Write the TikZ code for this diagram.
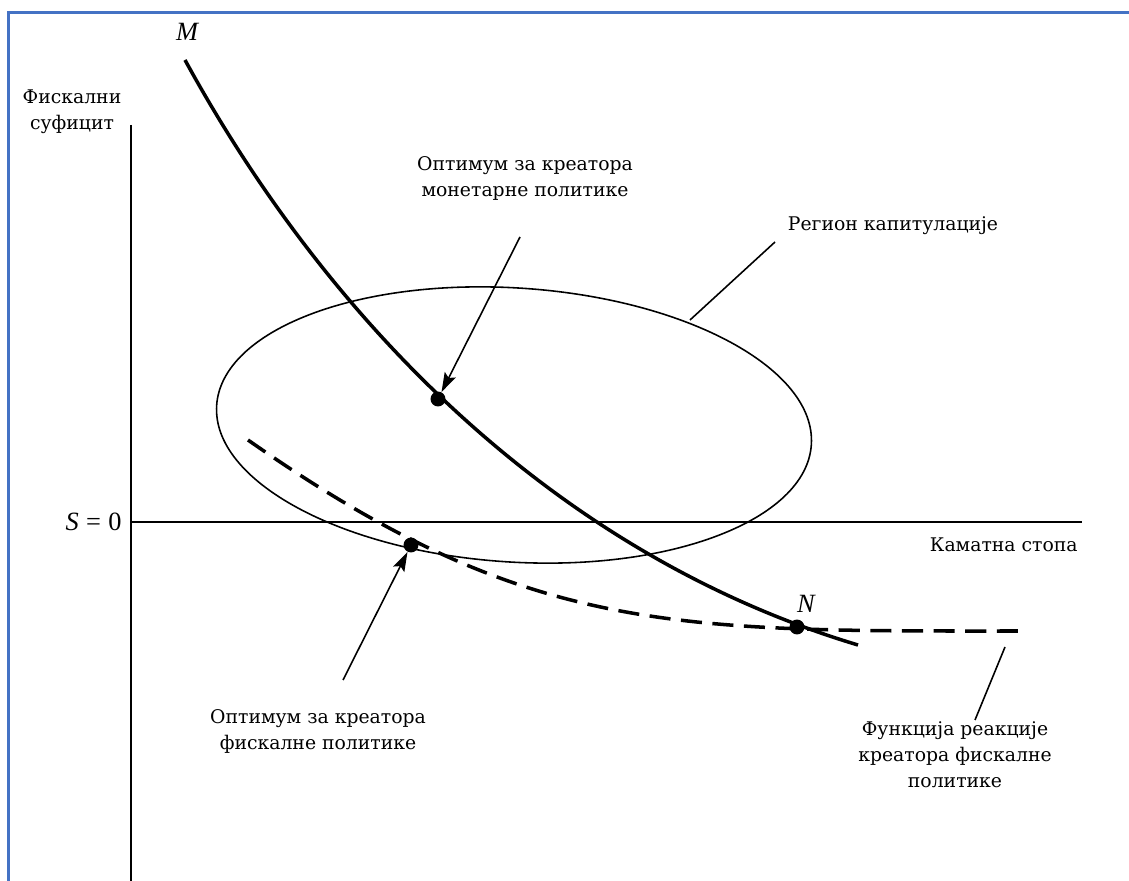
\documentclass[tikz,border=0pt]{standalone}
\usepackage{fontspec}
\setmainfont{DejaVu Serif}
\newfontfamily\timesit{Liberation Serif}
\usetikzlibrary{arrows.meta}
\definecolor{frameblue}{HTML}{4472C4}
\begin{document}
\begin{tikzpicture}[x=0.02cm,y=-0.02cm,
  axisline/.style={line width=1pt},
  curveline/.style={line width=2pt},
  thinline/.style={line width=0.9pt},
  pointer/.style={line width=0.9pt,-{Stealth[length=11pt,width=7pt,inset=2pt]}},
  leader/.style={line width=0.9pt},
  dotnode/.style={circle,fill=black,inner sep=0pt,minimum size=8.5pt},
  lbl/.style={font=\fontsize{10.7}{14.8}\selectfont,align=center,inner sep=0pt},
  ital/.style={font=\fontsize{15}{17}\selectfont\timesit\itshape,inner sep=0pt}]
\useasboundingbox (0,0) rectangle (1129,881);
% frame
\draw[frameblue,line width=2pt] (7,12.5) -- (1129,12.5);
\draw[frameblue,line width=1.8pt] (8.5,11) -- (8.5,881);
% axes
\coordinate (ytop) at (131,125);
\coordinate (ybot) at (131,881);
\coordinate (xl) at (131,522);
\coordinate (xr) at (1082,522);
\draw[axisline] (ytop) -- (ybot);
\draw[axisline] (xl) -- (xr);
\node[lbl] (ylab) at (72,112) {Фискални\\суфицит};
\node[lbl,anchor=east] (xlab) at (1078,545) {Каматна стопа};
\node[font=\fontsize{15}{17}\selectfont\timesit,inner sep=0pt,anchor=east] (s0) at (122,522) {{\itshape S}\hspace{0.28em}=\hspace{0.28em}0};
% ellipse
\draw[thinline,rotate around={-3.8:(514,425)}] (514,425) ellipse [x radius=298, y radius=137];
% curves
\coordinate (mstartc) at (185,60);
\coordinate (mendc) at (858,645);
\draw[curveline] (mstartc) .. controls (330,325) and (558,555) .. (mendc);
\coordinate (fstartc) at (248,440);
\coordinate (fendc) at (1025,631);
\draw[curveline,dash pattern=on 12pt off 6pt] (fstartc) .. controls (528,636) and (675,631) .. (fendc);
% labels M, N
\node[ital] (mlab) at (187,32) {M};
\node[ital] (nlab) at (806,604) {N};
% dots
\node[dotnode] (mopt) at (438,399) {};
\node[dotnode] (fopt) at (411,545) {};
\node[dotnode] (npt) at (797,627) {};
% texts and pointers
\node[lbl] (mtext) at (525,178) {Оптимум за креатора\\монетарне политике};
\coordinate (mstart) at (520,237);
\draw[pointer] (mstart) -- (mopt);
\node[lbl] (ftext) at (318,731) {Оптимум за креатора\\фискалне политике};
\coordinate (fstart) at (343,680);
\draw[pointer] (fstart) -- (fopt);
\node[lbl] (rtext) at (893,226) {Регион капитулације};
\coordinate (ra) at (775,242);
\coordinate (rb) at (690,320);
\draw[leader] (ra) -- (rb);
\node[lbl] (ftext2) at (955,755) {Функција реакције\\креатора фискалне\\политике};
\coordinate (fa) at (1005,647);
\coordinate (fb) at (975,720);
\draw[leader] (fa) -- (fb);
\end{tikzpicture}
\end{document}
